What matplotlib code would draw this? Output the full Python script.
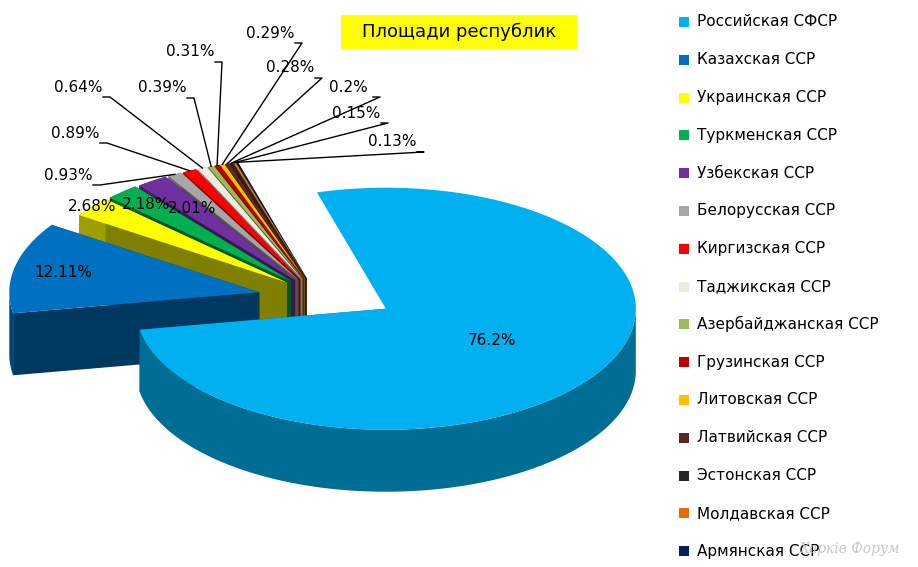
import numpy as np
import matplotlib
matplotlib.use("Agg")
import matplotlib.pyplot as plt
from matplotlib.patches import Polygon, Rectangle
from matplotlib.colors import to_rgb

names = ["Российская СФСР", "Казахская ССР", "Украинская ССР", "Туркменская ССР",
         "Узбекская ССР", "Белорусская ССР", "Киргизская ССР", "Таджикская ССР",
         "Азербайджанская ССР", "Грузинская ССР", "Литовская ССР", "Латвийская ССР",
         "Эстонская ССР", "Молдавская ССР", "Армянская ССР"]
values = [76.2, 12.11, 2.68, 2.18, 2.01, 0.93, 0.89, 0.64, 0.39, 0.31, 0.29, 0.28, 0.2, 0.15, 0.13]
labels = ["76.2%", "12.11%", "2.68%", "2.18%", "2.01%", "0.93%", "0.89%", "0.64%",
          "0.39%", "0.31%", "0.29%", "0.28%", "0.2%", "0.15%", "0.13%"]
colors = ["#00B0F0", "#0070C0", "#FFFF00", "#00B050", "#7030A0", "#A6A6A6", "#FF0000",
          "#EEECE1", "#9BBB59", "#C00000", "#FFC000", "#632523", "#262626", "#E46C0A", "#002060"]

W, H = 918, 567
fig = plt.figure(figsize=(W/100, H/100), dpi=100)
ax = fig.add_axes([0, 0, 1, 1])
ax.set_xlim(0, W); ax.set_ylim(H, 0); ax.axis("off")

cx, cy = 318, 296
rx, ry, depth = 250, 121, 62
start = 106
explode = [80, 60] + [40]*13
yfac = 0.3
inside_r = [0.5, 0.8, 1.0, 0.86, 0.72]
outside = [(68, 175), (75, 133), (78, 87), (162, 88), (190, 52), (270, 33), (290, 68),
           (348, 87), (356, 113), (392, 142)]

total = sum(values)
angs = []
a = start
for v in values:
    a2 = a - 360*v/total
    angs.append((a, a2)); a = a2

def pt(c, t, r=1.0):
    return (c[0] + r*rx*np.cos(np.radians(t)), c[1] - r*ry*np.sin(np.radians(t)))

def shade(c, f):
    return tuple(x*f for x in to_rgb(c))

order = list(range(1, len(values)))
order.sort(key=lambda i: -np.sin(np.radians(sum(angs[i])/2)))
order.append(0)
geo = {}
for i in order:
    t1, t2 = angs[i]; m = (t1+t2)/2
    e = explode[i]
    c = (cx + e*np.cos(np.radians(m)), cy - e*yfac*np.sin(np.radians(m)) - (0 if i < 2 else 6))
    geo[i] = c
    ts = np.linspace(t1, t2, max(4, int((t1-t2)*2)))
    arc = [pt(c, t) for t in ts]
    dn = lambda p: (p[0], p[1]+depth)
    for t in ((t2,) if i == 0 else (t1, t2)):
        q = [c, pt(c, t), dn(pt(c, t)), dn(c)]
        ax.add_patch(Polygon(q, closed=True, fc=shade(colors[i], 0.5), ec="none", zorder=2))
    fs = ts[np.sin(np.radians(ts)) <= 0.02]
    if i > 0 and len(fs) < 2:
        fs = ts
    if len(fs) >= 2:
        farc = [pt(c, t) for t in fs]
        band = farc + [dn(p) for p in farc[::-1]]
        ax.add_patch(Polygon(band, closed=True, fc=shade(colors[i], 0.62), ec="none", zorder=2))
    ax.add_patch(Polygon([c] + arc, closed=True, fc=colors[i], ec="none", zorder=2))

for i in range(len(values)):
    t1, t2 = angs[i]; m = (t1+t2)/2
    if i < 5:
        x, y = pt(geo[i], m, inside_r[i])
        ax.text(x, y, labels[i], fontsize=11, ha="center", va="center", zorder=5)
    else:
        lx, ly = outside[i-5]
        p = pt(geo[i], m, 1.0)
        ax.plot([p[0], lx + 32, lx + 25], [p[1], ly + 10, ly + 10], color="black", lw=1, zorder=4)
        ax.text(lx, ly, labels[i], fontsize=11, ha="center", va="center", zorder=5)

ax.add_patch(Rectangle((341, 15), 236, 34, fc="#FFFF00", ec="none", zorder=3))
ax.text(459, 32, "Площади республик", fontsize=13, ha="center", va="center", zorder=4)

for k, (n, col) in enumerate(zip(names, colors)):
    y = 22 + k*37.8
    ax.add_patch(Rectangle((679, y-5), 10, 10, fc=col, ec="none"))
    ax.text(697, y, n, fontsize=11, ha="left", va="center")

ax.text(850, 549, "Харків Форум", fontsize=10, color="#C8C8C8", ha="center", va="center",
        style="italic", family="DejaVu Serif")
fig.savefig("out.png", dpi=100)
